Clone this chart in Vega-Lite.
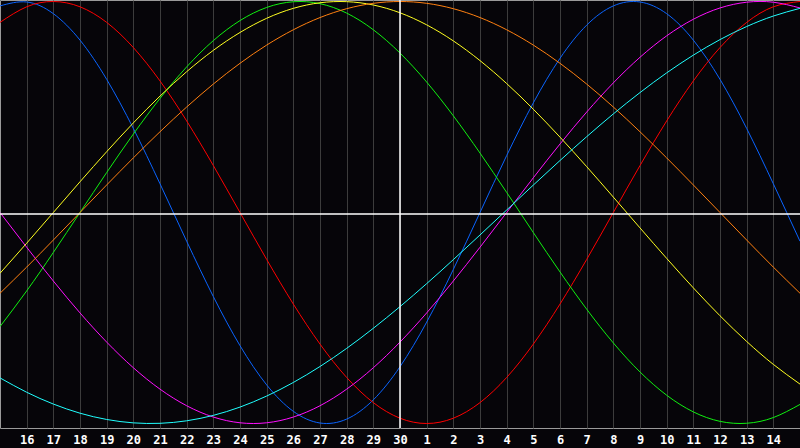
{
"$schema": "https://vega.github.io/schema/vega-lite/v6.json",
"width": 800, "height": 428,
"autosize": {"type": "none"},
"padding": {"left": 0, "top": 0, "right": 0, "bottom": 20},
"background": "#060509",
"config": {
"view": {"stroke": "#9a9a9a", "strokeWidth": 1, "fill": "#060509"},
"axisX": {"labelOverlap": false, "labelFlush": false, "labelBound": false, "grid": true, "gridColor": "#3c3c3c", "gridWidth": 1, "ticks": false, "tickSize": 0, "domain": false,
"labelFont": "DejaVu Sans Mono", "labelFontWeight": "bold", "labelFontSize": 12, "labelColor": "#ffffff", "labelPadding": 6, "labelBaseline": "top", "title": null}
},
"layer": [
{
"data": {"values": [
{"s":"P23","k":0,"v":0.9791},{"s":"P23","k":1,"v":0.9977},{"s":"P23","k":2,"v":0.9423},{"s":"P23","k":3,"v":0.8170},{"s":"P23","k":4,"v":0.6311},{"s":"P23","k":5,"v":0.3984},{"s":"P23","k":6,"v":0.1362},{"s":"P23","k":7,"v":-0.1362},{"s":"P23","k":8,"v":-0.3984},{"s":"P23","k":9,"v":-0.6311},{"s":"P23","k":10,"v":-0.8170},{"s":"P23","k":11,"v":-0.9423},{"s":"P23","k":12,"v":-0.9977},{"s":"P23","k":13,"v":-0.9791},{"s":"P23","k":14,"v":-0.8879},{"s":"P23","k":15,"v":-0.7308},{"s":"P23","k":16,"v":-0.5196},{"s":"P23","k":17,"v":-0.2698},{"s":"P23","k":18,"v":0},{"s":"P23","k":19,"v":0.2698},{"s":"P23","k":20,"v":0.5196},{"s":"P23","k":21,"v":0.7308},{"s":"P23","k":22,"v":0.8879},{"s":"P23","k":23,"v":0.9791},{"s":"P23","k":24,"v":0.9977},{"s":"P23","k":25,"v":0.9423},{"s":"P23","k":26,"v":0.8170},{"s":"P23","k":27,"v":0.6311},{"s":"P23","k":28,"v":0.3984},{"s":"P23","k":29,"v":0.1362},{"s":"P23","k":30,"v":-0.1362},
{"s":"E28","k":0,"v":0.9010},{"s":"E28","k":1,"v":0.9749},{"s":"E28","k":2,"v":1},{"s":"E28","k":3,"v":0.9749},{"s":"E28","k":4,"v":0.9010},{"s":"E28","k":5,"v":0.7818},{"s":"E28","k":6,"v":0.6235},{"s":"E28","k":7,"v":0.4339},{"s":"E28","k":8,"v":0.2225},{"s":"E28","k":9,"v":0},{"s":"E28","k":10,"v":-0.2225},{"s":"E28","k":11,"v":-0.4339},{"s":"E28","k":12,"v":-0.6235},{"s":"E28","k":13,"v":-0.7818},{"s":"E28","k":14,"v":-0.9010},{"s":"E28","k":15,"v":-0.9749},{"s":"E28","k":16,"v":-1},{"s":"E28","k":17,"v":-0.9749},{"s":"E28","k":18,"v":-0.9010},{"s":"E28","k":19,"v":-0.7818},{"s":"E28","k":20,"v":-0.6235},{"s":"E28","k":21,"v":-0.4339},{"s":"E28","k":22,"v":-0.2225},{"s":"E28","k":23,"v":0},{"s":"E28","k":24,"v":0.2225},{"s":"E28","k":25,"v":0.4339},{"s":"E28","k":26,"v":0.6235},{"s":"E28","k":27,"v":0.7818},{"s":"E28","k":28,"v":0.9010},{"s":"E28","k":29,"v":0.9749},{"s":"E28","k":30,"v":1},
{"s":"I33","k":0,"v":-0.5406},{"s":"I33","k":1,"v":-0.3717},{"s":"I33","k":2,"v":-0.1893},{"s":"I33","k":3,"v":0},{"s":"I33","k":4,"v":0.1893},{"s":"I33","k":5,"v":0.3717},{"s":"I33","k":6,"v":0.5406},{"s":"I33","k":7,"v":0.6901},{"s":"I33","k":8,"v":0.8146},{"s":"I33","k":9,"v":0.9096},{"s":"I33","k":10,"v":0.9718},{"s":"I33","k":11,"v":0.9989},{"s":"I33","k":12,"v":0.9898},{"s":"I33","k":13,"v":0.9450},{"s":"I33","k":14,"v":0.8660},{"s":"I33","k":15,"v":0.7557},{"s":"I33","k":16,"v":0.6182},{"s":"I33","k":17,"v":0.4582},{"s":"I33","k":18,"v":0.2817},{"s":"I33","k":19,"v":0.0951},{"s":"I33","k":20,"v":-0.0951},{"s":"I33","k":21,"v":-0.2817},{"s":"I33","k":22,"v":-0.4582},{"s":"I33","k":23,"v":-0.6182},{"s":"I33","k":24,"v":-0.7557},{"s":"I33","k":25,"v":-0.8660},{"s":"I33","k":26,"v":-0.9450},{"s":"I33","k":27,"v":-0.9898},{"s":"I33","k":28,"v":-0.9989},{"s":"I33","k":29,"v":-0.9718},{"s":"I33","k":30,"v":-0.9096},
{"s":"U38","k":0,"v":0},{"s":"U38","k":1,"v":-0.1646},{"s":"U38","k":2,"v":-0.3247},{"s":"U38","k":3,"v":-0.4759},{"s":"U38","k":4,"v":-0.6142},{"s":"U38","k":5,"v":-0.7357},{"s":"U38","k":6,"v":-0.8372},{"s":"U38","k":7,"v":-0.9158},{"s":"U38","k":8,"v":-0.9694},{"s":"U38","k":9,"v":-0.9966},{"s":"U38","k":10,"v":-0.9966},{"s":"U38","k":11,"v":-0.9694},{"s":"U38","k":12,"v":-0.9158},{"s":"U38","k":13,"v":-0.8372},{"s":"U38","k":14,"v":-0.7357},{"s":"U38","k":15,"v":-0.6142},{"s":"U38","k":16,"v":-0.4759},{"s":"U38","k":17,"v":-0.3247},{"s":"U38","k":18,"v":-0.1646},{"s":"U38","k":19,"v":0},{"s":"U38","k":20,"v":0.1646},{"s":"U38","k":21,"v":0.3247},{"s":"U38","k":22,"v":0.4759},{"s":"U38","k":23,"v":0.6142},{"s":"U38","k":24,"v":0.7357},{"s":"U38","k":25,"v":0.8372},{"s":"U38","k":26,"v":0.9158},{"s":"U38","k":27,"v":0.9694},{"s":"U38","k":28,"v":0.9966},{"s":"U38","k":29,"v":0.9966},{"s":"U38","k":30,"v":0.9694},
{"s":"A43","k":0,"v":-0.2881},{"s":"A43","k":1,"v":-0.1456},{"s":"A43","k":2,"v":0},{"s":"A43","k":3,"v":0.1456},{"s":"A43","k":4,"v":0.2881},{"s":"A43","k":5,"v":0.4245},{"s":"A43","k":6,"v":0.5518},{"s":"A43","k":7,"v":0.6673},{"s":"A43","k":8,"v":0.7685},{"s":"A43","k":9,"v":0.8532},{"s":"A43","k":10,"v":0.9204},{"s":"A43","k":11,"v":0.9675},{"s":"A43","k":12,"v":0.9940},{"s":"A43","k":13,"v":0.9993},{"s":"A43","k":14,"v":0.9834},{"s":"A43","k":15,"v":0.9465},{"s":"A43","k":16,"v":0.8893},{"s":"A43","k":17,"v":0.8133},{"s":"A43","k":18,"v":0.7199},{"s":"A43","k":19,"v":0.6112},{"s":"A43","k":20,"v":0.4894},{"s":"A43","k":21,"v":0.3572},{"s":"A43","k":22,"v":0.2174},{"s":"A43","k":23,"v":0.0730},{"s":"A43","k":24,"v":-0.0730},{"s":"A43","k":25,"v":-0.2174},{"s":"A43","k":26,"v":-0.3572},{"s":"A43","k":27,"v":-0.4894},{"s":"A43","k":28,"v":-0.6112},{"s":"A43","k":29,"v":-0.7199},{"s":"A43","k":30,"v":-0.8133},
{"s":"W48","k":0,"v":-0.3827},{"s":"W48","k":1,"v":-0.2588},{"s":"W48","k":2,"v":-0.1305},{"s":"W48","k":3,"v":0},{"s":"W48","k":4,"v":0.1305},{"s":"W48","k":5,"v":0.2588},{"s":"W48","k":6,"v":0.3827},{"s":"W48","k":7,"v":0.5},{"s":"W48","k":8,"v":0.6088},{"s":"W48","k":9,"v":0.7071},{"s":"W48","k":10,"v":0.7934},{"s":"W48","k":11,"v":0.8660},{"s":"W48","k":12,"v":0.9239},{"s":"W48","k":13,"v":0.9659},{"s":"W48","k":14,"v":0.9914},{"s":"W48","k":15,"v":1},{"s":"W48","k":16,"v":0.9914},{"s":"W48","k":17,"v":0.9659},{"s":"W48","k":18,"v":0.9239},{"s":"W48","k":19,"v":0.8660},{"s":"W48","k":20,"v":0.7934},{"s":"W48","k":21,"v":0.7071},{"s":"W48","k":22,"v":0.6088},{"s":"W48","k":23,"v":0.5},{"s":"W48","k":24,"v":0.3827},{"s":"W48","k":25,"v":0.2588},{"s":"W48","k":26,"v":0.1305},{"s":"W48","k":27,"v":0},{"s":"W48","k":28,"v":-0.1305},{"s":"W48","k":29,"v":-0.2588},{"s":"W48","k":30,"v":-0.3827},
{"s":"S53","k":0,"v":-0.7839},{"s":"S53","k":1,"v":-0.8518},{"s":"S53","k":2,"v":-0.9078},{"s":"S53","k":3,"v":-0.9511},{"s":"S53","k":4,"v":-0.9809},{"s":"S53","k":5,"v":-0.9970},{"s":"S53","k":6,"v":-0.9991},{"s":"S53","k":7,"v":-0.9872},{"s":"S53","k":8,"v":-0.9614},{"s":"S53","k":9,"v":-0.9222},{"s":"S53","k":10,"v":-0.8699},{"s":"S53","k":11,"v":-0.8055},{"s":"S53","k":12,"v":-0.7298},{"s":"S53","k":13,"v":-0.6439},{"s":"S53","k":14,"v":-0.5487},{"s":"S53","k":15,"v":-0.4460},{"s":"S53","k":16,"v":-0.3371},{"s":"S53","k":17,"v":-0.2234},{"s":"S53","k":18,"v":-0.1065},{"s":"S53","k":19,"v":0.0119},{"s":"S53","k":20,"v":0.1301},{"s":"S53","k":21,"v":0.2464},{"s":"S53","k":22,"v":0.3593},{"s":"S53","k":23,"v":0.4672},{"s":"S53","k":24,"v":0.5684},{"s":"S53","k":25,"v":0.6618},{"s":"S53","k":26,"v":0.7458},{"s":"S53","k":27,"v":0.8195},{"s":"S53","k":28,"v":0.8814},{"s":"S53","k":29,"v":0.9311},{"s":"S53","k":30,"v":0.9677}
]},
"mark": {"type": "line", "strokeWidth": 1, "interpolate": "natural", "clip": true},
"encoding": {
"x": {"field": "k", "type": "quantitative", "title": null,
"scale": {"domain": [0, 30], "nice": false, "zero": false},
"axis": {"values": [1,2,3,4,5,6,7,8,9,10,11,12,13,14,15,16,17,18,19,20,21,22,23,24,25,26,27,28,29],
"labelExpr": "datum.value <= 15 ? datum.value + 15 : datum.value - 15",
"labelOverlap": false, "labelFlush": false, "tickCount": 30}},
"y": {"field": "v", "type": "quantitative", "title": null,
"scale": {"domain": [-1.0213, 1.0071], "nice": false, "zero": false}, "axis": null},
"color": {"field": "s", "type": "nominal", "legend": null,
"scale": {"domain": ["P23","E28","I33","U38","A43","W48","S53"],
"range": ["#0a64ff","#ff0000","#10f010","#ff10ff","#ffff20","#ff8010","#20ffff"]}}
}
},
{
"data": {"values": [{"k": 15}]},
"mark": {"type": "rule", "color": "#ffffff", "strokeWidth": 1.5},
"encoding": {"x": {"field": "k", "type": "quantitative", "title": null}}
},
{
"data": {"values": [{"v": -0.007}]},
"mark": {"type": "rule", "color": "#ffffff", "strokeWidth": 1.5},
"encoding": {"y": {"field": "v", "type": "quantitative", "title": null, "axis": null}}
}
]
}
